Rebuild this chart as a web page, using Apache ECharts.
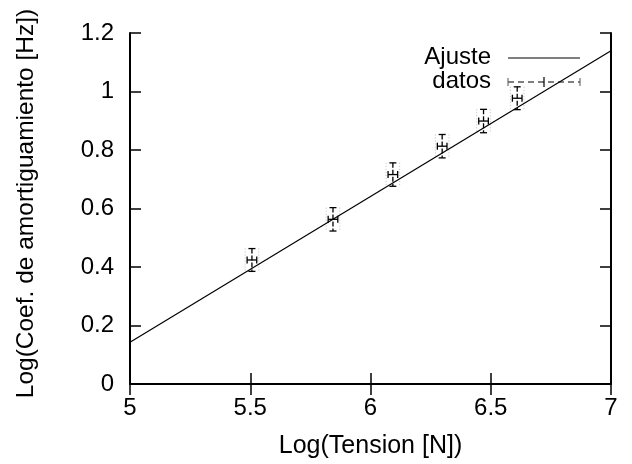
<!DOCTYPE html>
<html>
<head>
<meta charset="utf-8">
<script src="https://cdn.jsdelivr.net/npm/echarts@6/dist/echarts.min.js"></script>
<style>html,body{margin:0;padding:0;background:#fff}#c{width:632px;height:464px}</style>
</head>
<body>
<div id="c"></div>
<script>
// Data
var tensionLog = [5.507, 5.844, 6.093, 6.298, 6.470, 6.610];
var coefLog    = [0.424, 0.563, 0.716, 0.813, 0.899, 0.977];
var xErr       = [0.02, 0.02, 0.02, 0.02, 0.02, 0.02];
var yErr       = [0.039, 0.040, 0.040, 0.040, 0.040, 0.039];
var fitX = [5, 7];
var fitY = [0.143, 1.139];
var xTicks = [5, 5.5, 6, 6.5, 7];
var yTicks = [0, 0.2, 0.4, 0.6, 0.8, 1, 1.2];

var FONT = 'Liberation Sans, Arial, Helvetica, sans-serif';
var chart = echarts.init(document.getElementById('c'), null, {renderer: 'canvas'});

var errData = tensionLog.map(function (x, i) { return [x, coefLog[i], xErr[i], yErr[i]]; });
var fitData = fitX.map(function (x, i) { return [x, fitY[i]]; });

function renderErr(params, api) {
  var x = api.value(0), y = api.value(1), dx = api.value(2), dy = api.value(3);
  var top = api.coord([x, y + dy]);
  var bot = api.coord([x, y - dy]);
  var lft = api.coord([x - dx, y]);
  var rgt = api.coord([x + dx, y]);
  var cap = 3.5;
  var dash = {stroke: '#000', lineWidth: 1.3, lineDash: [5, 2]};
  var solid = {stroke: '#000', lineWidth: 1.3};
  var faint = {stroke: '#bbb', lineWidth: 1, lineDash: [1, 2]};
  return {
    type: 'group',
    children: [
      {type: 'line', shape: {x1: lft[0] - 2, y1: top[1], x2: lft[0] - 2, y2: bot[1]}, style: faint},
      {type: 'line', shape: {x1: rgt[0] + 2, y1: top[1], x2: rgt[0] + 2, y2: bot[1]}, style: faint},
      {type: 'line', shape: {x1: top[0], y1: top[1], x2: bot[0], y2: bot[1]}, style: dash},
      {type: 'line', shape: {x1: top[0] - cap, y1: top[1], x2: top[0] + cap, y2: top[1]}, style: solid},
      {type: 'line', shape: {x1: bot[0] - cap, y1: bot[1], x2: bot[0] + cap, y2: bot[1]}, style: solid},
      {type: 'line', shape: {x1: lft[0], y1: lft[1], x2: rgt[0], y2: rgt[1]}, style: solid},
      {type: 'line', shape: {x1: lft[0], y1: lft[1] - cap, x2: lft[0], y2: lft[1] + cap}, style: solid},
      {type: 'line', shape: {x1: rgt[0], y1: rgt[1] - cap, x2: rgt[0], y2: rgt[1] + cap}, style: solid}
    ]
  };
}

var axisLine = {show: true, lineStyle: {color: '#000', width: 2}};
var tick = {show: true, inside: true, length: 11, lineStyle: {color: '#000', width: 1.5}};

function legendText(txt, y) {
  return {type: 'text', x: 491, y: y, style: {text: txt, font: '24px ' + FONT, fill: '#000',
    textAlign: 'right', align: 'right', textVerticalAlign: 'middle', verticalAlign: 'middle'}};
}

chart.setOption({
  animation: false,
  backgroundColor: '#fff',
  textStyle: {fontFamily: FONT},
  grid: {left: 130, top: 33, width: 481, height: 351, containLabel: false},
  xAxis: [{
    type: 'value', min: 5, max: 7, interval: 0.5, position: 'bottom',
    axisLine: axisLine, axisTick: tick, splitLine: {show: false},
    axisLabel: {color: '#000', fontSize: 24, fontFamily: FONT, margin: 12},
    name: 'Log(Tension [N])', nameLocation: 'middle', nameGap: 50,
    nameTextStyle: {color: '#000', fontSize: 25, fontFamily: FONT}
  }, {
    type: 'value', min: 5, max: 7, interval: 0.5, position: 'top',
    axisLine: axisLine, axisTick: tick, splitLine: {show: false}, axisLabel: {show: false}
  }],
  yAxis: [{
    type: 'value', min: 0, max: 1.2, interval: 0.2, position: 'left',
    axisLine: axisLine, axisTick: tick, splitLine: {show: false},
    axisLabel: {color: '#000', fontSize: 24, fontFamily: FONT, margin: 16},
    name: 'Log(Coef. de amortiguamiento [Hz])', nameLocation: 'middle', nameGap: 91,
    nameTextStyle: {color: '#000', fontSize: 24.5, fontFamily: FONT, padding: [0, 0, 0, 10]}
  }, {
    type: 'value', min: 0, max: 1.2, interval: 0.2, position: 'right',
    axisLine: axisLine, axisTick: tick, splitLine: {show: false}, axisLabel: {show: false}
  }],
  series: [{
    name: 'Ajuste', type: 'line', data: fitData, showSymbol: false,
    lineStyle: {color: '#000', width: 1.2}, silent: true, clip: true
  }, {
    name: 'datos', type: 'custom', data: errData, renderItem: renderErr, clip: true
  }],
  graphic: [
    legendText('Ajuste', 57),
    legendText('datos', 81),
    {type: 'line', shape: {x1: 508, y1: 58, x2: 580, y2: 58}, style: {stroke: '#000', lineWidth: 1.2}},
    {type: 'group', children: [
      {type: 'line', shape: {x1: 508, y1: 82, x2: 580, y2: 82}, style: {stroke: '#555', lineWidth: 1.5, lineDash: [6, 4]}},
      {type: 'line', shape: {x1: 508, y1: 78, x2: 508, y2: 86}, style: {stroke: '#555', lineWidth: 1}},
      {type: 'line', shape: {x1: 580, y1: 78, x2: 580, y2: 86}, style: {stroke: '#555', lineWidth: 1}},
      {type: 'line', shape: {x1: 544, y1: 77, x2: 544, y2: 87}, style: {stroke: '#000', lineWidth: 1.2}}
    ]}
  ]
});
</script>
</body>
</html>
